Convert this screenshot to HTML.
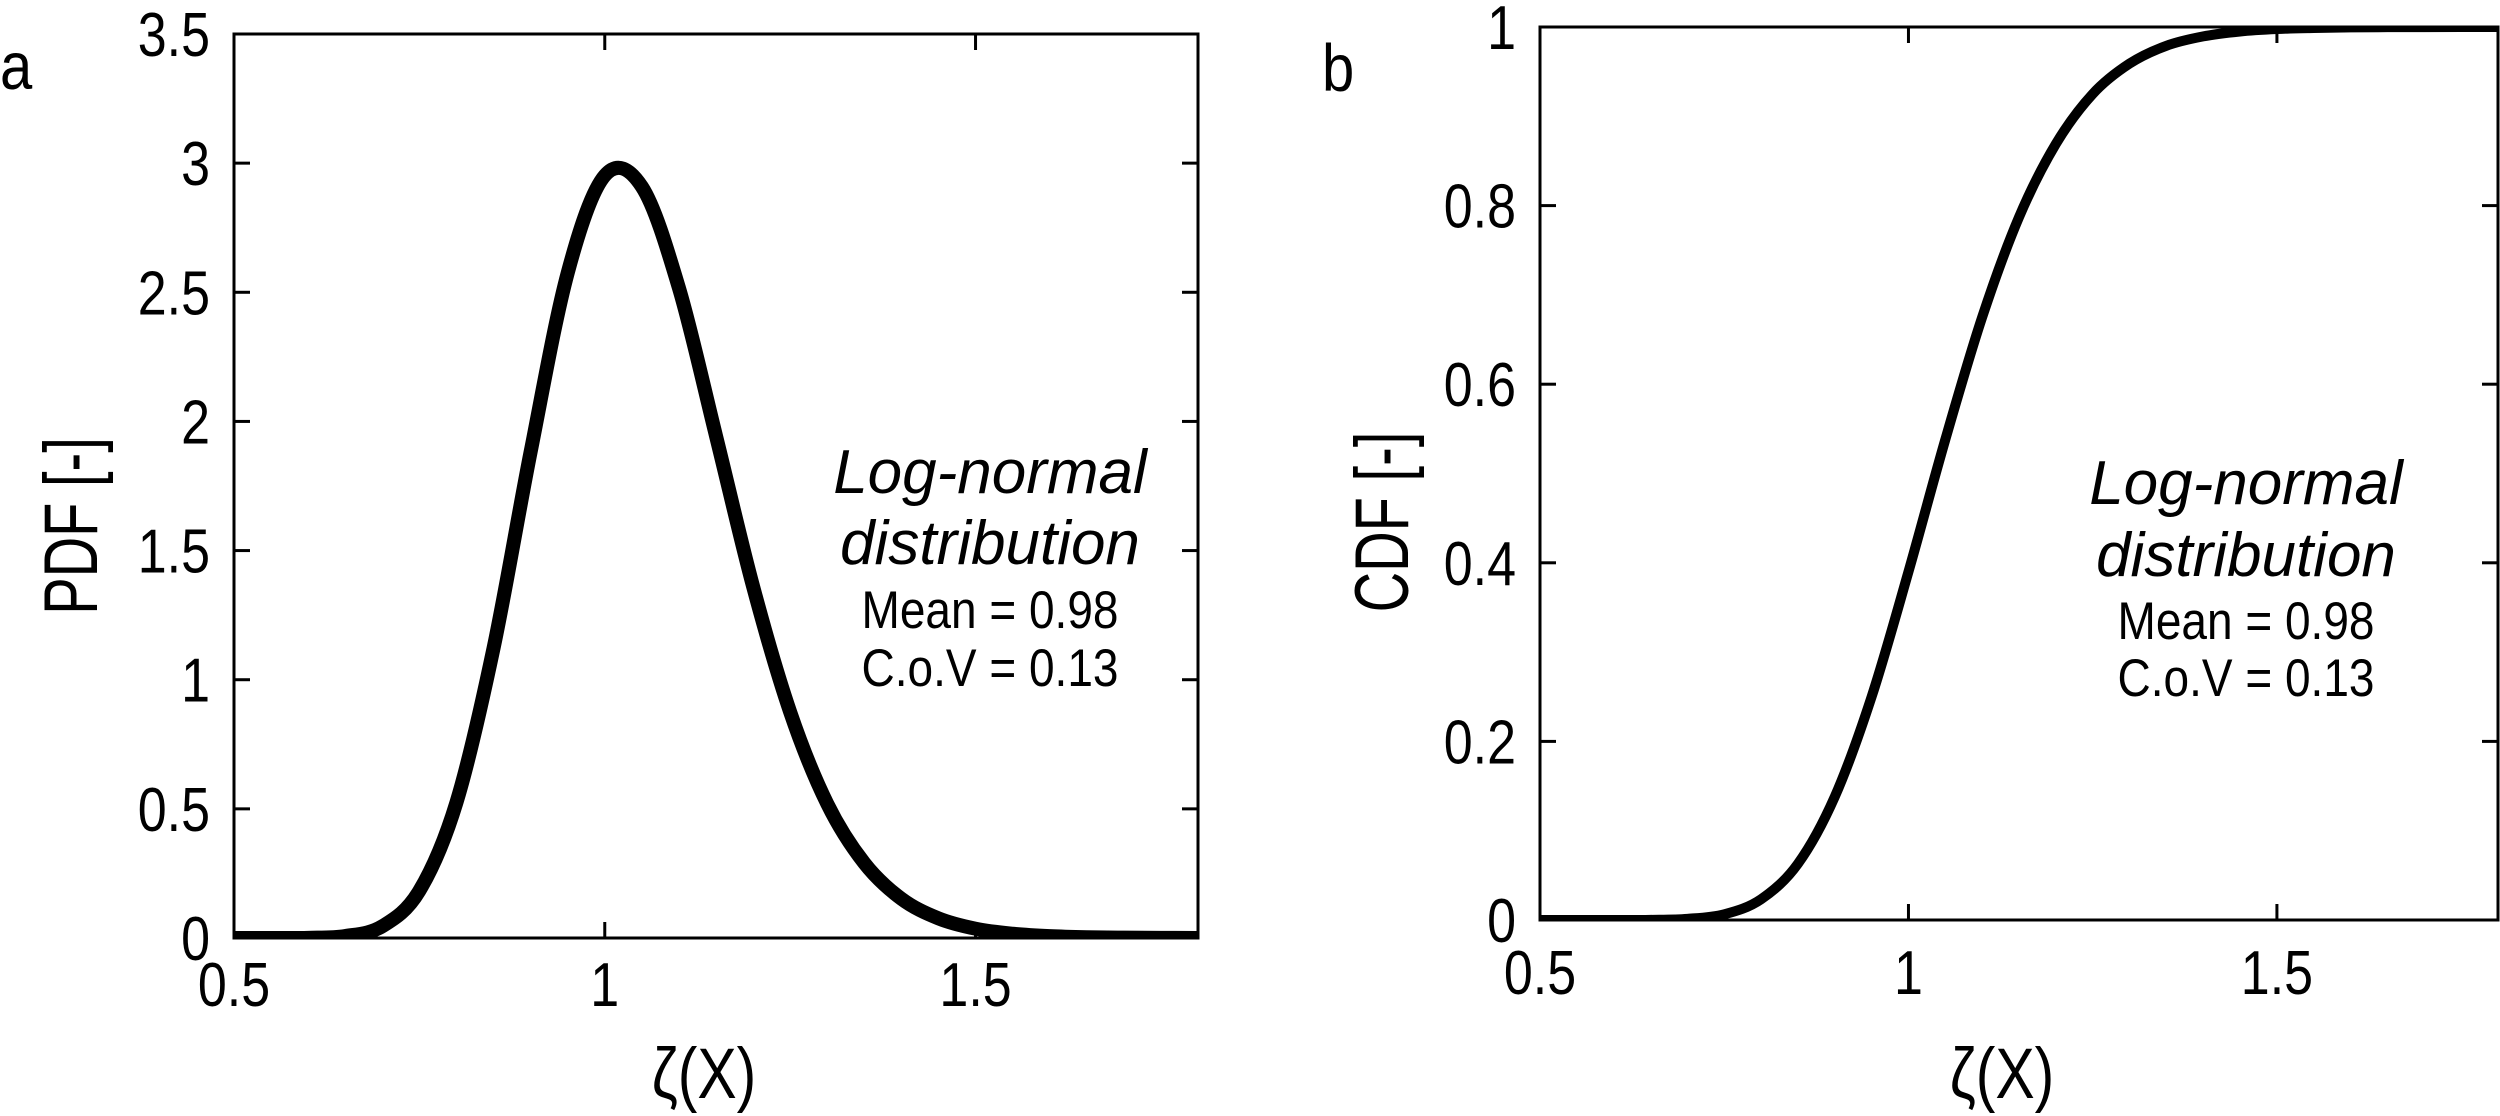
<!DOCTYPE html>
<html><head><meta charset="utf-8"><style>
html,body{margin:0;padding:0;background:#fff;}
svg{display:block;font-family:"Liberation Sans",sans-serif;}
</style></head><body>
<svg id="fig" width="2500" height="1116" viewBox="0 0 2500 1116">
<defs>
<clipPath id="clipA"><rect x="234" y="34" width="964" height="904"/></clipPath>
<clipPath id="clipB"><rect x="1540" y="27" width="958" height="893"/></clipPath>
</defs>
<g id="panelA"></g>
<g id="panelB"></g>
</svg>
<script>
const xValues = [0.5,0.55,0.6,0.65,0.7,0.75,0.8,0.85,0.9,0.95,1.0,1.05,1.1,1.15,1.2,1.25,1.3,1.35,1.4,1.45,1.5,1.55,1.6,1.65,1.7,1.75,1.8];
const pdfValues = [0,0,0.0007,0.0075,0.0455,0.183,0.525,1.122,1.882,2.575,2.952,2.909,2.517,1.944,1.361,0.875,0.52,0.29,0.152,0.076,0.036,0.0166,0.0073,0.003,0.0013,0.0005,0.0002];
const cdfValues = [0,0,0.00001,0.0002,0.0013,0.0064,0.0233,0.063,0.138,0.25,0.39,0.538,0.675,0.787,0.869,0.925,0.959,0.979,0.9895,0.995,0.9977,0.9989,0.9996,0.9998,0.9999,1,1];
const xTicks = [0.5,1,1.5];
const xTickLabels = ["0.5","1","1.5"];
const pdfTicks = [0,0.5,1,1.5,2,2.5,3,3.5];
const pdfTickLabels = ["0","0.5","1","1.5","2","2.5","3","3.5"];
const cdfTicks = [0,0.2,0.4,0.6,0.8,1];
const cdfTickLabels = ["0","0.2","0.4","0.6","0.8","1"];

const NS="http://www.w3.org/2000/svg";
function mk(parent,tag,attrs,text){const e=document.createElementNS(NS,tag);for(const k in attrs)e.setAttribute(k,attrs[k]);if(text!==undefined)e.textContent=text;parent.appendChild(e);return e;}
function pathFrom(pts){let d="M"+pts[0][0]+","+pts[0][1];
 for(let i=0;i<pts.length-1;i++){const p0=pts[Math.max(0,i-1)],p1=pts[i],p2=pts[i+1],p3=pts[Math.min(pts.length-1,i+2)];
 const c1=[p1[0]+(p2[0]-p0[0])/6,p1[1]+(p2[1]-p0[1])/6],c2=[p2[0]-(p3[0]-p1[0])/6,p2[1]-(p3[1]-p1[1])/6];
 d+=" C"+c1[0]+","+c1[1]+" "+c2[0]+","+c2[1]+" "+p2[0]+","+p2[1];}return d;}

function panel(g,cfg){
 const sx=v=>cfg.L+(v-0.5)/(1.8-0.5)*(cfg.R-cfg.L);
 const sy=v=>cfg.B-(v-0)/(cfg.ymax)*(cfg.B-cfg.T);
 const line=mk(g,"path",{d:pathFrom(xValues.map((x,i)=>[sx(x),sy(cfg.vals[i])])),fill:"none",stroke:"#000","stroke-width":cfg.lw,"stroke-linejoin":"round","clip-path":cfg.clip});
 
 
 const fr=mk(g,"rect",{x:cfg.L,y:cfg.T,width:cfg.R-cfg.L,height:cfg.B-cfg.T,fill:"none",stroke:"#000","stroke-width":3});
 
 
 xTicks.forEach((t,i)=>{const x=sx(t);
  mk(g,"line",{x1:x,x2:x,y1:cfg.B,y2:cfg.B-16,stroke:"#000","stroke-width":3});
  mk(g,"line",{x1:x,x2:x,y1:cfg.T,y2:cfg.T+16,stroke:"#000","stroke-width":3});
  const tl=mk(g,"text",{transform:"translate("+x+","+cfg.xlabY+") scale(1,1.2)","font-size":52,"text-anchor":"middle"},xTickLabels[i]);
  
  
 });
 cfg.ticks.forEach((t,i)=>{const y=sy(t);
  mk(g,"line",{x1:cfg.L,x2:cfg.L+16,y1:y,y2:y,stroke:"#000","stroke-width":3});
  mk(g,"line",{x1:cfg.R,x2:cfg.R-16,y1:y,y2:y,stroke:"#000","stroke-width":3});
  const tl=mk(g,"text",{transform:"translate("+(cfg.L-24)+","+(y+22)+") scale(1,1.2)","font-size":52,"text-anchor":"end"},cfg.labels[i]);
  
  
 });
}
panel(document.getElementById("panelA"),{L:234,R:1198,T:34,B:938,ymax:3.5,vals:pdfValues,lw:14,clip:"url(#clipA)",ticks:pdfTicks,labels:pdfTickLabels,xlabY:1006,name:"pdf"});
panel(document.getElementById("panelB"),{L:1540,R:2498,T:27,B:920,ymax:1,vals:cdfValues,lw:10,clip:"url(#clipB)",ticks:cdfTicks,labels:cdfTickLabels,xlabY:994,name:"cdf"});
</script>
<svg style="position:absolute;left:0;top:0" width="2500" height="1116">
<g font-family="Liberation Sans, sans-serif" fill="#000">
<text transform="translate(0,89) scale(1,1.15)" font-size="58">a</text>
<text transform="translate(1322,91) scale(1,1.15)" font-size="58">b</text>
<text transform="translate(97,526) rotate(-90) scale(0.85,1.15)" font-size="66" text-anchor="middle">PDF [-]</text>
<text transform="translate(1408,522) rotate(-90) scale(0.85,1.15)" font-size="66" text-anchor="middle">CDF [-]</text>
<text transform="translate(704,1098) scale(0.95,1.15)" font-size="62" text-anchor="middle">ζ(X)</text>
<text transform="translate(2002,1098) scale(0.95,1.15)" font-size="62" text-anchor="middle">ζ(X)</text>
<g text-anchor="middle">
<text x="990" y="493" font-size="62" font-style="italic">Log-normal</text>
<text x="990" y="564" font-size="62" font-style="italic">distribution</text>
<text transform="translate(990,628) scale(1,1.15)" font-size="46">Mean = 0.98</text>
<text transform="translate(990,686) scale(1,1.15)" font-size="46">C.o.V = 0.13</text>
</g>
<g text-anchor="middle">
<text x="2246" y="504" font-size="62" font-style="italic">Log-normal</text>
<text x="2246" y="576" font-size="62" font-style="italic">distribution</text>
<text transform="translate(2246,639) scale(1,1.15)" font-size="46">Mean = 0.98</text>
<text transform="translate(2246,696) scale(1,1.15)" font-size="46">C.o.V = 0.13</text>
</g>
</g>
</svg>
</body></html>
